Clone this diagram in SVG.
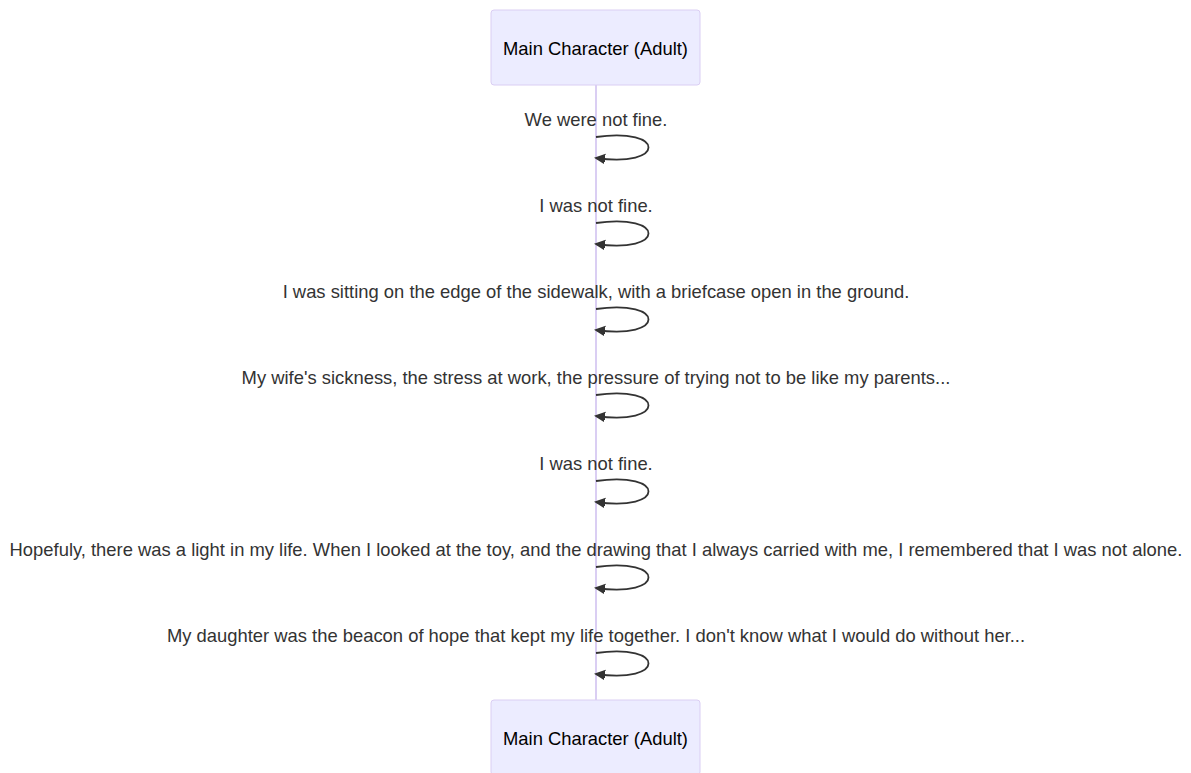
<svg xmlns="http://www.w3.org/2000/svg" width="1191" height="773" viewBox="0 0 1191 773">
  <style>
    .actor { fill: #ECECFF; stroke: #DACEF3; stroke-width: 1; }
    .actor-text { font-family: "Liberation Sans", Arial, sans-serif; font-size: 18.4px; fill: #000; text-anchor: middle; dominant-baseline: central; }
    .lifeline { stroke: #DACEF3; stroke-width: 2; }
    .msg-text { font-family: "Liberation Sans", Arial, sans-serif; font-size: 18.4px; fill: #333; text-anchor: middle; }
    .msg-line { fill: none; stroke: #333; stroke-width: 1.8; }
  </style>
  <defs>
    <!-- filled arrowhead; tip sits slightly past the path end -->
    <marker id="arrowhead" refX="9" refY="5.5" markerUnits="userSpaceOnUse" markerWidth="13" markerHeight="13" orient="auto">
      <path d="M -1 0 L 11 5.5 L 0 11 z" fill="#333"/>
    </marker>
  </defs>
  <rect width="1191" height="773" fill="#ffffff"/>

  <g id="lifeline">
    <line class="lifeline" x1="596" y1="85" x2="596" y2="700"/>
  </g>

  <g id="actor-top">
    <rect class="actor" x="491" y="10" width="209" height="75" rx="3"/>
    <text class="actor-text" x="595.5" y="48">Main Character (Adult)</text>
  </g>
  <g id="actor-bottom">
    <rect class="actor" x="491" y="700" width="209" height="75" rx="3"/>
    <text class="actor-text" x="595.5" y="738">Main Character (Adult)</text>
  </g>

  <g id="messages">
    <text class="msg-text" x="596" y="125.5">We were not fine.</text>
    <path class="msg-line" d="M 596,137 C 666,127 666,168 596,158" marker-end="url(#arrowhead)"/>

    <text class="msg-text" x="596" y="211.5">I was not fine.</text>
    <path class="msg-line" d="M 596,223 C 666,213 666,254 596,244" marker-end="url(#arrowhead)"/>

    <text class="msg-text" x="596" y="297.5">I was sitting on the edge of the sidewalk, with a briefcase open in the ground.</text>
    <path class="msg-line" d="M 596,309 C 666,299 666,340 596,330" marker-end="url(#arrowhead)"/>

    <text class="msg-text" x="596" y="383.5">My wife's sickness, the stress at work, the pressure of trying not to be like my parents...</text>
    <path class="msg-line" d="M 596,395 C 666,385 666,426 596,416" marker-end="url(#arrowhead)"/>

    <text class="msg-text" x="596" y="469.5">I was not fine.</text>
    <path class="msg-line" d="M 596,481 C 666,471 666,512 596,502" marker-end="url(#arrowhead)"/>

    <text class="msg-text" x="596" y="555.5">Hopefuly, there was a light in my life. When I looked at the toy, and the drawing that I always carried with me, I remembered that I was not alone.</text>
    <path class="msg-line" d="M 596,567 C 666,557 666,598 596,588" marker-end="url(#arrowhead)"/>

    <text class="msg-text" x="596" y="641.5">My daughter was the beacon of hope that kept my life together. I don't know what I would do without her...</text>
    <path class="msg-line" d="M 596,653 C 666,643 666,684 596,674" marker-end="url(#arrowhead)"/>
  </g>
</svg>
